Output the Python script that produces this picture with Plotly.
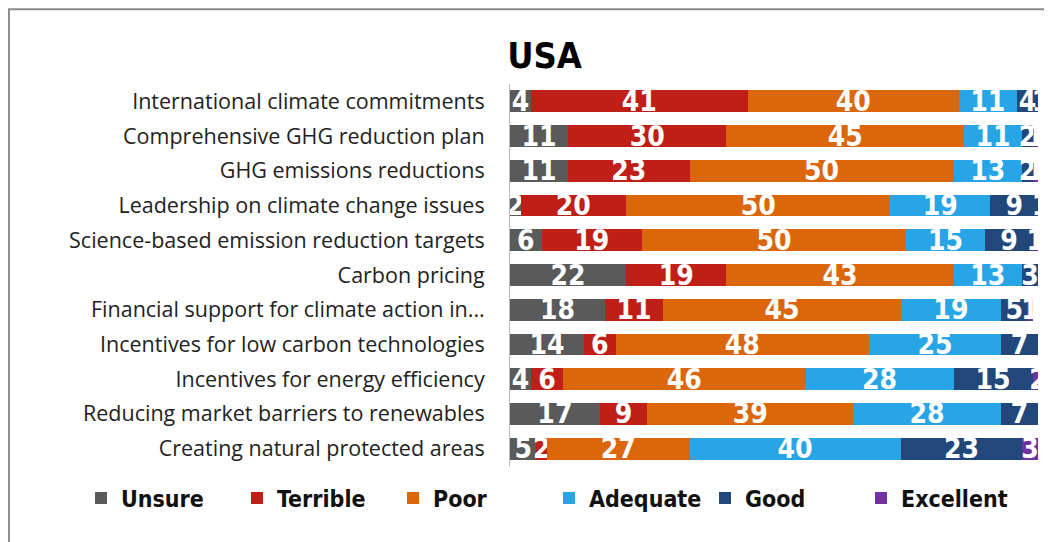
import plotly.graph_objects as go

categories = [
    "International climate commitments",
    "Comprehensive GHG reduction plan",
    "GHG emissions reductions",
    "Leadership on climate change issues",
    "Science-based emission reduction targets",
    "Carbon pricing",
    "Financial support for climate action in...",
    "Incentives for low carbon technologies",
    "Incentives for energy efficiency",
    "Reducing market barriers to renewables",
    "Creating natural protected areas",
]

unsure = [4, 11, 11, 2, 6, 22, 18, 14, 4, 17, 5]
terrible = [41, 30, 23, 20, 19, 19, 11, 6, 6, 9, 2]
poor = [40, 45, 50, 50, 50, 43, 45, 48, 46, 39, 27]
adequate = [11, 11, 13, 19, 15, 13, 19, 25, 28, 28, 40]
good = [4, 2, 2, 9, 9, 3, 5, 7, 15, 7, 23]
excellent = [1, 1, 1, 1, 1, 0, 1, 0, 2, 0, 3]

series = [
    ("Unsure", unsure, "#5a5a5a"),
    ("Terrible", terrible, "#c01f17"),
    ("Poor", poor, "#db660c"),
    ("Adequate", adequate, "#27a5e6"),
    ("Good", good, "#22477a"),
    ("Excellent", excellent, "#7032a0"),
]

num_font = "DejaVu Sans Condensed, Open Sans"

fig = go.Figure()
for name, vals, color in series:
    fig.add_trace(go.Bar(
        y=categories, x=vals, name=name, orientation="h",
        marker=dict(color=color, line=dict(width=0)),
        text=[str(v) if v else "" for v in vals],
        textposition="inside", insidetextanchor="middle", textangle=0,
        textfont=dict(color="white", size=28, family=num_font, weight="bold"),
    ))

# the page body adds an 8px offset, so the margins below are shifted by it
fig.update_layout(
    barmode="stack", bargap=0.37,
    width=1052, height=542,
    margin=dict(l=502, r=22, t=76, b=84),
    paper_bgcolor="white", plot_bgcolor="white",
    title=dict(text="USA", x=0.51, xanchor="center", y=0.913, yanchor="middle",
               font=dict(size=36, color="black", family=num_font, weight="bold")),
    uniformtext=dict(minsize=28, mode="show"),
    xaxis=dict(range=[0, 100], visible=False, fixedrange=True),
    yaxis=dict(autorange="reversed", showline=True, linecolor="#bbbbbb", linewidth=1,
               ticks="", ticklabelstandoff=20,
               tickfont=dict(size=21.5, color="#222222", family="Open Sans")),
    legend=dict(orientation="h", x=-0.8125, xanchor="left", y=-0.084, yanchor="middle",
                font=dict(size=23, color="#111111", family=num_font, weight="bold"),
                itemwidth=30, entrywidth=111, entrywidthmode="pixels", traceorder="normal"),
    shapes=[dict(type="rect", xref="paper", yref="paper",
                 x0=-0.949, x1=1.2, y0=-0.6, y1=1.196,
                 line=dict(color="#8c8c8c", width=2), layer="below")],
)

fig.write_html("out.html")
